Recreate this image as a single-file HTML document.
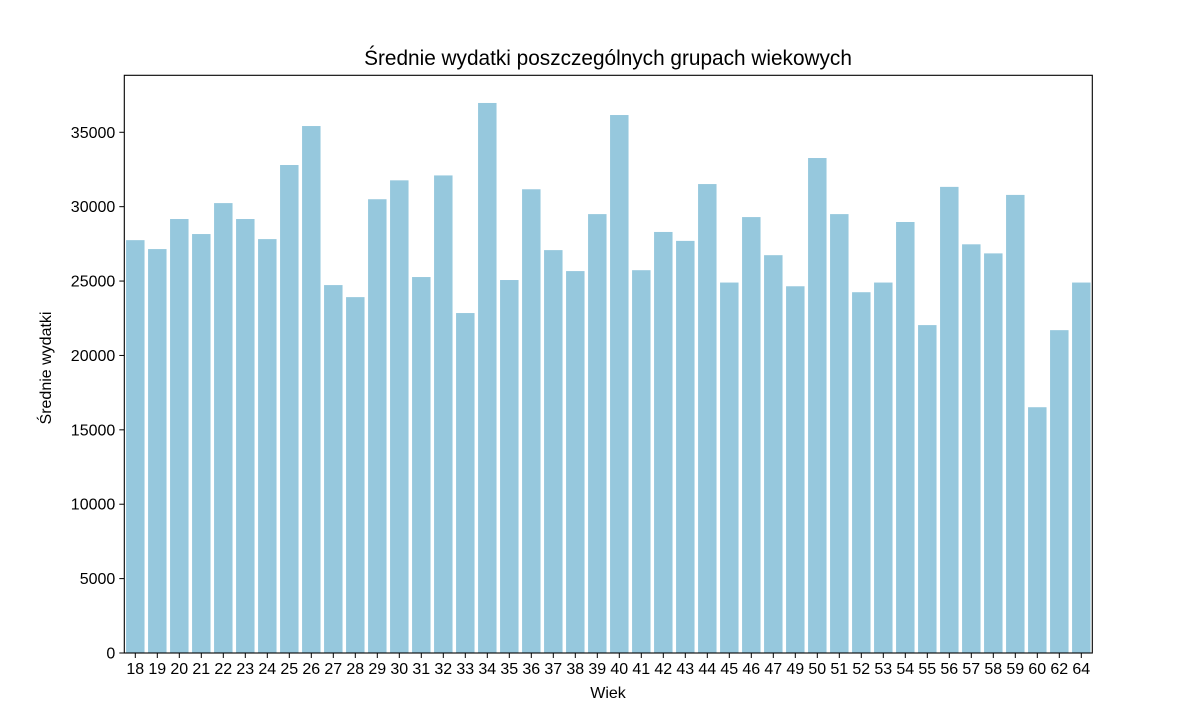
<!DOCTYPE html>
<html><head><meta charset="utf-8"><style>
body{margin:0;background:#fff;}
svg{display:block;font-family:"Liberation Sans",Arial,sans-serif;}
</style></head><body>
<svg id="chart" width="1183" height="722">
<text x="608" y="65" text-anchor="middle" font-size="20.8">Średnie wydatki poszczególnych grupach wiekowych</text>
<g id="bars"></g>
<g id="axes"></g>
<text x="608" y="698" text-anchor="middle" font-size="16">Wiek</text>
<text transform="translate(51,368) rotate(-90)" text-anchor="middle" font-size="16">Średnie wydatki</text>
</svg>
<script>
const categories = ["18","19","20","21","22","23","24","25","26","27","28","29","30","31","32","33","34","35","36","37","38","39","40","41","42","43","44","45","46","47","49","50","51","52","53","54","55","56","57","58","59","60","62","64"];
const values = [27750,27150,29170,28160,30240,29170,27820,32800,35420,24730,23920,30500,31770,25270,32100,22850,36970,25070,31170,27080,25670,29500,36160,25730,28300,27700,31520,24900,29300,26740,24650,33270,29500,24250,24900,28970,22040,31330,27470,26860,30790,16520,21700,24900];
const yTicks = [0,5000,10000,15000,20000,25000,30000,35000];
const L=124.3, R=1092.3, T=75.3, B=653, yMax=38830;
const ns="http://www.w3.org/2000/svg";
const slot=(R-L)/categories.length;
function xScale(i){return L+slot*(i+0.5);}
function yScale(v){return B-(v/yMax)*(B-T);}
const bars=document.getElementById('bars'), axes=document.getElementById('axes');
function mk(tag,attrs,parent){const e=document.createElementNS(ns,tag);for(const k in attrs)e.setAttribute(k,attrs[k]);parent.appendChild(e);return e;}
const bw=slot*0.84;
values.forEach((v,i)=>{
  const r=mk('rect',{x:xScale(i)-bw/2,y:yScale(v),width:bw,height:B-yScale(v),fill:'#96c8dd'},bars);
  
  
});
const frame=mk('rect',{x:L,y:T,width:R-L,height:B-T,fill:'none',stroke:'#000','stroke-width':1.1},axes);


yTicks.forEach(t=>{
  const y=yScale(t);
  mk('line',{x1:L-5,x2:L,y1:y,y2:y,stroke:'#000','stroke-width':1},axes);
  const tx=mk('text',{x:L-9,y:y+5.5,'text-anchor':'end','font-size':16},axes);
  tx.textContent=t;
  
  
});
categories.forEach((c,i)=>{
  const x=xScale(i);
  mk('line',{x1:x,x2:x,y1:B,y2:B+5,stroke:'#000','stroke-width':1},axes);
  const tx=mk('text',{x:x,y:B+21,'text-anchor':'middle','font-size':16},axes);
  tx.textContent=c;
  
  
});
</script>
</body></html>
